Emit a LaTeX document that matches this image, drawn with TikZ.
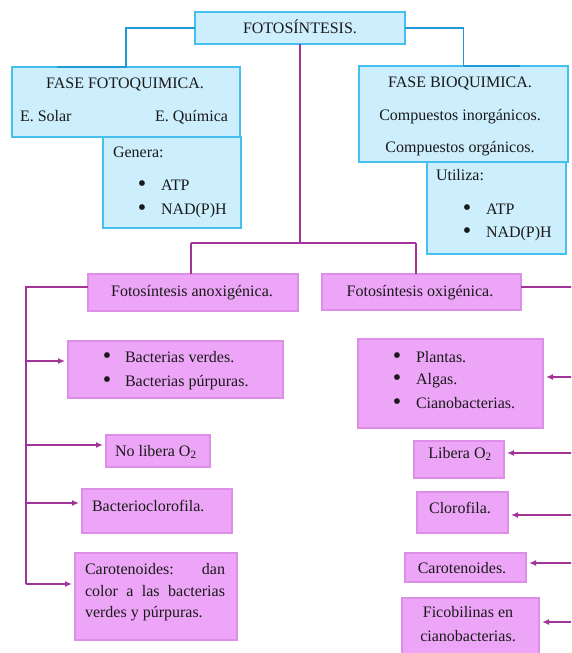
\documentclass[tikz,border=0pt]{standalone}
\usepackage{fontspec}
\setmainfont{Liberation Serif}
\usetikzlibrary{arrows.meta}
\definecolor{bluefill}{RGB}{205,238,252}
\definecolor{bluebd}{RGB}{69,192,238}
\definecolor{blueln}{RGB}{31,154,214}
\definecolor{pinkfill}{RGB}{237,166,247}
\definecolor{pinkbd}{RGB}{221,142,230}
\definecolor{purpln}{RGB}{162,51,151}
\definecolor{ink}{RGB}{25,25,25}
\newcommand{\blt}{{\fontsize{24}{24}\selectfont\textbullet}}
\begin{document}
\begin{tikzpicture}[x=1pt,y=-1pt,
  font=\fontsize{16}{19}\selectfont,
  box/.style={draw, line width=1.1pt, inner sep=0pt, outer sep=0pt, anchor=north west},
  bluebox/.style={box, draw=bluebd, fill=bluefill},
  pinkbox/.style={box, draw=pinkbd, fill=pinkfill},
  txt/.style={inner sep=0pt, outer sep=0pt, text=ink, anchor=mid, yshift=-2pt},
  txtl/.style={txt, anchor=mid west},
  txtr/.style={txt, anchor=mid east},
  dot/.style={txt, yshift=-1pt},
  bluelink/.style={draw=blueln, line width=1.5pt},
  purplelink/.style={draw=purpln, line width=1.5pt},
  arr/.style={purplelink, -{Latex[length=7pt,width=6pt]}, shorten >=3pt}]
\useasboundingbox (0,0) rectangle (571,653);
\clip (0,0) rectangle (571,653);

% ---------- blue boxes ----------
\node[bluebox, minimum width=210pt, minimum height=32pt] (title) at (195,12) {};
\node[bluebox, minimum width=228pt, minimum height=70pt] (fq) at (12,67) {};
\node[bluebox, minimum width=138pt, minimum height=91pt] (gen) at (103,137) {};
\node[bluebox, minimum width=209pt, minimum height=96pt] (bq) at (359,66) {};
\node[bluebox, minimum width=139pt, minimum height=92pt] (ut) at (427,162) {};

\node[txt] (t0) at (300,29) {FOTOSÍNTESIS.};
\node[txt] (t1) at (125,84) {FASE FOTOQUIMICA.};
\node[txtl] (t2) at (20,117) {E. Solar};
\node[txtr] (t3) at (228,117) {E. Química};
\node[txtl] (t4) at (113,153) {Genera:};
\node[dot] (t5b) at (142,186) {\blt};
\node[txtl] (t5) at (161,186) {ATP};
\node[dot] (t6b) at (142,210) {\blt};
\node[txtl] (t6) at (161,210) {NAD(P)H};

\node[txt] (u1) at (460,83) {FASE BIOQUIMICA.};
\node[txt] (u2) at (460,116) {Compuestos inorgánicos.};
\node[txt] (u3) at (460,148) {Compuestos orgánicos.};
\node[txtl] (u4) at (436,176) {Utiliza:};
\node[dot] (u5b) at (467,210) {\blt};
\node[txtl] (u5) at (486,210) {ATP};
\node[dot] (u6b) at (467,233) {\blt};
\node[txtl] (u6) at (486,233) {NAD(P)H};

% ---------- pink boxes ----------
\node[pinkbox, minimum width=210pt, minimum height=37pt] (anox) at (88,274) {};
\node[pinkbox, minimum width=199pt, minimum height=36pt] (ox) at (322,274) {};

\node[pinkbox, minimum width=215pt, minimum height=57pt] (bact) at (68,341) {};
\node[pinkbox, minimum width=104pt, minimum height=32pt] (nolib) at (106,435) {};
\node[pinkbox, minimum width=150pt, minimum height=44pt] (bclo) at (82,489) {};
\node[pinkbox, minimum width=162pt, minimum height=87pt] (caro) at (75,553) {};

\node[pinkbox, minimum width=185pt, minimum height=89pt] (plant) at (358,339) {};
\node[pinkbox, minimum width=90pt, minimum height=37pt] (lib) at (414,441) {};
\node[pinkbox, minimum width=91pt, minimum height=41pt] (clo) at (417,492) {};
\node[pinkbox, minimum width=121pt, minimum height=29pt] (car2) at (405,553) {};
\node[pinkbox, minimum width=137pt, minimum height=56pt] (fico) at (402,598) {};

\node[txt] (p0) at (192,292) {Fotosíntesis anoxigénica.};
\node[txt] (q0) at (420,292) {Fotosíntesis oxigénica.};

\node[dot] (p1b) at (107,358) {\blt};
\node[txtl] (p1) at (125,358) {Bacterias verdes.};
\node[dot] (p2b) at (107,382) {\blt};
\node[txtl] (p2) at (125,382) {Bacterias púrpuras.};
\node[txtl] (p3) at (115,452) {No libera O\textsubscript{2}};
\node[txtl] (p4) at (92,507) {Bacterioclorofila.};
\node[txtl] (p5) at (85,570) {\makebox[140pt][s]{Carotenoides:\hfill dan}};
\node[txtl] (p6) at (85,592) {\makebox[140pt][s]{color a las bacterias}};
\node[txtl] (p7) at (85,613) {verdes y púrpuras.};

\node[dot] (q1b) at (397,358) {\blt};
\node[txtl] (q1) at (416,358) {Plantas.};
\node[dot] (q2b) at (397,380) {\blt};
\node[txtl] (q2) at (416,380) {Algas.};
\node[dot] (q3b) at (397,404) {\blt};
\node[txtl] (q3) at (416,404) {Cianobacterias.};
\node[txt] (q4) at (460,454) {Libera O\textsubscript{2}};
\node[txt] (q5) at (460,509) {Clorofila.};
\node[txt] (q6) at (462,569) {Carotenoides.};
\node[txt] (q7) at (468,613) {Ficobilinas en};
\node[txt] (q8) at (468,637) {cianobacterias.};

% ---------- blue connectors ----------
\draw[bluelink] (title.west) -| (fq.north) -- ++(-69,0);
\draw[bluelink] (title.east) -| (bq.north) -- ++(56,0);

% ---------- purple connectors ----------
\coordinate (bl) at (191,243);
\coordinate (br) at (416,243);
\draw[purplelink] (title.south) -- (title.south |- bl);
\draw[purplelink] (bl) -- (br);
\draw[purplelink] (bl) -- (bl |- anox.north);
\draw[purplelink] (br) -- (br |- ox.north);

% left bus
\coordinate (lb) at (26,287);
\coordinate (lbe) at (26,584);
\draw[purplelink] (lb -| anox.west) -- (lb) -- (lbe);
\coordinate (a1) at (26,361);
\coordinate (a2) at (26,445);
\coordinate (a3) at (26,503);
\draw[arr] (a1) -- (a1 -| bact.west);
\draw[arr] (a2) -- (a2 -| nolib.west);
\draw[arr] (a3) -- (a3 -| bclo.west);
\draw[arr] (lbe) -- (lbe -| caro.west);

% right bus
\coordinate (rb) at (575,287);
\coordinate (rbe) at (575,622);
\draw[purplelink] (rb -| ox.east) -- (rb) -- (rbe);
\coordinate (b1) at (575,377);
\coordinate (b2) at (575,453);
\coordinate (b3) at (575,515);
\coordinate (b4) at (575,563);
\draw[arr] (b1) -- (b1 -| plant.east);
\draw[arr] (b2) -- (b2 -| lib.east);
\draw[arr] (b3) -- (b3 -| clo.east);
\draw[arr] (b4) -- (b4 -| car2.east);
\draw[arr] (rbe) -- (rbe -| fico.east);
\end{tikzpicture}
\end{document}
